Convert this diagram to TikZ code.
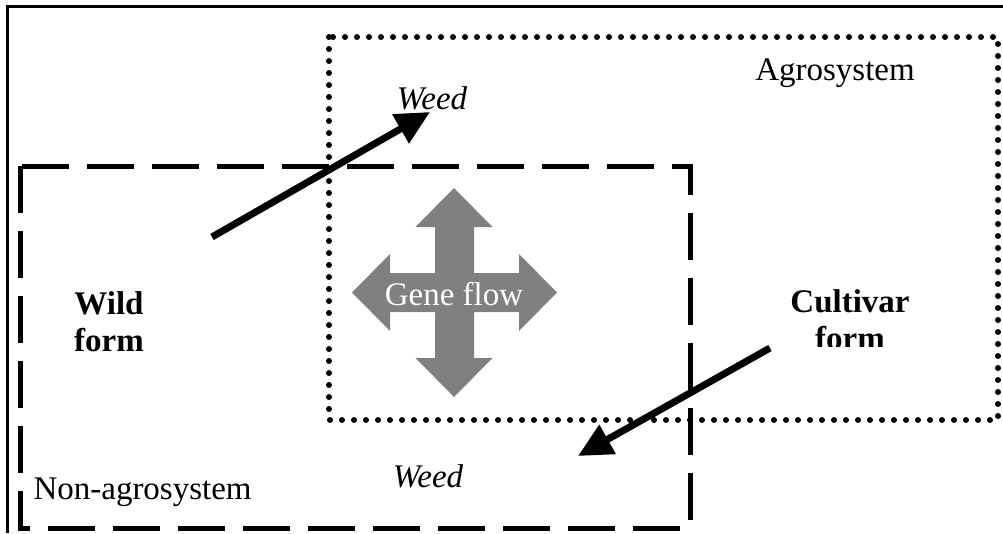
\documentclass[tikz,border=0pt]{standalone}
\usepackage{fontspec}
\setmainfont{Liberation Serif}
\usetikzlibrary{arrows.meta}
\tikzset{
  bigfont/.style={font=\fontsize{33}{37}\selectfont},
  agrobox/.style={draw, line width=6pt, line cap=round, dash pattern=on 0pt off 12pt},
  nonagrobox/.style={draw, line width=5pt, dash pattern=on 47pt off 18pt},
  flowarrow/.style={line width=7pt, -{Triangle[length=34pt,width=32pt]}},
}
\begin{document}
\begin{tikzpicture}[x=1pt,y=-1pt]
            \useasboundingbox (0,0) rectangle (1003,533);
            % Marco
            \draw[line width=3pt] (1003,6) -- (7,6) -- (7,533);
            % Cajas
            \draw[agrobox] (329,37) rectangle (998,420);
            \draw[nonagrobox] (20,166) rectangle (690,528);
            % Flujo genico
            \fill[gray] (454,188) -- (492.5,227) -- (474,227) -- (474,273) -- (519,273) -- (519,254)
              -- (557,292.5) -- (519,331) -- (519,312) -- (474,312) -- (474,358) -- (492.5,358)
              -- (454,397) -- (415.5,358) -- (435,358) -- (435,312) -- (390,312) -- (390,331)
              -- (352,292.5) -- (390,254) -- (390,273) -- (435,273) -- (435,227) -- (415.5,227) -- cycle;
            \node[bigfont, text=white] (geneflow) at (454,294) {Gene flow};
            % Textos
            \node[bigfont] (agro) at (835,73) {Agrosystem};
            \node[bigfont] (weedtop) at (432,98) {\itshape Weed};
            \node[bigfont, align=center] (wild) at (109,322) {\bfseries Wild\\\bfseries form};
            \begin{scope}
              \clip (780,270) rectangle (920,346);
              \node[bigfont, align=center] (cultivar) at (850,320) {\bfseries Cultivar\\\bfseries form};
            \end{scope}
            \node[bigfont] (weedbottom) at (428,476) {\itshape Weed};
            \node[bigfont, anchor=west] (nonagro) at (30,492) {Non-agrosystem};
            % Flechas
            \coordinate (wildtail) at (212,237);
            \coordinate (wildtip) at (430,112);
            \coordinate (cultail) at (770,348);
            \coordinate (cultip) at (578,456);
            \draw[flowarrow] (wildtail) -- (wildtip);
            \draw[flowarrow] (cultail) -- (cultip);
\end{tikzpicture}
\end{document}
